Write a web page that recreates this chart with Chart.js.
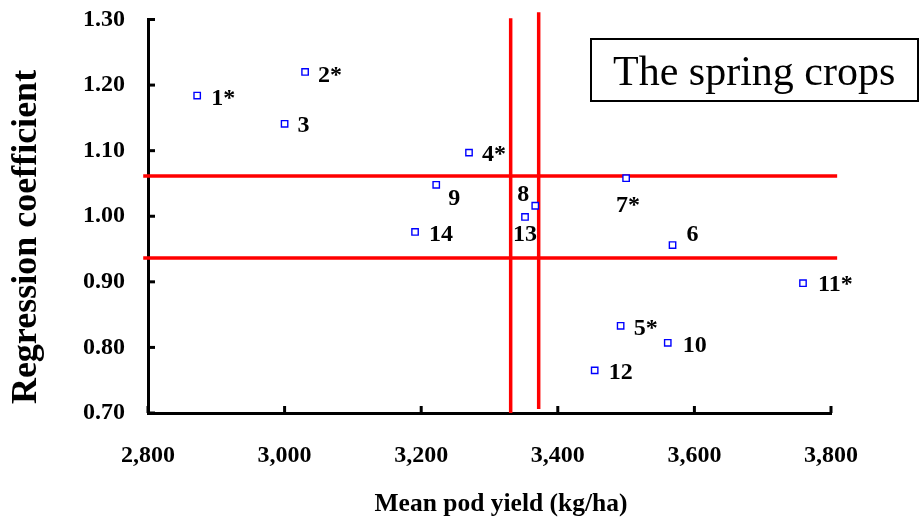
<!DOCTYPE html>
<html>
<head>
<meta charset="utf-8">
<script src="https://cdn.jsdelivr.net/npm/chart.js@4.4.1/dist/chart.umd.min.js"></script>
<style>
  html, body { margin: 0; padding: 0; background: #fff; }
  #wrap { width: 922px; height: 524px; }
</style>
</head>
<body>
<div id="wrap"><canvas id="chart"></canvas></div>
<script>
// genotypes, mean pod yield (kg/ha) and regression coefficient
const pointLabels = ['1*', '2*', '3', '4*', '5*', '6', '7*', '8', '9', '10', '11*', '12', '13', '14'];
const meanYield = [2872, 3030, 3000, 3270, 3492, 3568, 3500, 3367, 3222, 3561, 3759, 3454, 3352, 3191];
const regCoef = [1.184, 1.220, 1.141, 1.097, 0.833, 0.956, 1.058, 1.016, 1.048, 0.807, 0.898, 0.765, 0.999, 0.976];

const xTicks = [2800, 3000, 3200, 3400, 3600, 3800];
const yTicks = [0.70, 0.80, 0.90, 1.00, 1.10, 1.20, 1.30];

// red reference lines
const hLines = [1.0615, 0.9364];
const hLineSpan = [2793, 3809];
const vLines = [3331, 3372];
const vLineSpans = [[0.700, 1.302], [0.706, 1.311]];

// label placement next to each point: [dx, dy, align]
const labelOffsets = [
  [14, 3, 'left'], [13, 4, 'left'], [13, 2, 'left'], [13, 2, 'left'], [13, 3, 'left'],
  [14, -10, 'left'], [2, 28, 'center'], [-18, -11, 'left'], [12, 14, 'left'], [15, 3, 'left'],
  [15, 2, 'left'], [14, 2, 'left'], [0, 18, 'center'], [14, 3, 'left']
];

const serif = "'Liberation Serif', 'Times New Roman', serif";
const RED = '#ff0000';

const points = meanYield.map((x, i) => ({ x: x, y: regCoef[i] }));

const lineSets = [
  ...hLines.map(v => ({
    data: [{ x: hLineSpan[0], y: v }, { x: hLineSpan[1], y: v }],
    showLine: true, borderColor: RED, borderWidth: 3.5, pointRadius: 0, clip: false
  })),
  ...vLines.map((v, i) => ({
    data: [{ x: v, y: vLineSpans[i][0] }, { x: v, y: vLineSpans[i][1] }],
    showLine: true, borderColor: RED, borderWidth: 3.5, pointRadius: 0, clip: false
  }))
];

const extras = {
  id: 'extras',
  afterDraw(chart) {
    const { ctx, scales: { x, y } } = chart;
    ctx.save();
    // inward tick marks
    ctx.strokeStyle = '#000';
    ctx.lineWidth = 3;
    xTicks.forEach(v => {
      const px = x.getPixelForValue(v);
      ctx.beginPath(); ctx.moveTo(px, y.bottom); ctx.lineTo(px, y.bottom - 7); ctx.stroke();
    });
    yTicks.forEach(v => {
      const py = y.getPixelForValue(v);
      ctx.beginPath(); ctx.moveTo(x.left, py); ctx.lineTo(x.left + 7, py); ctx.stroke();
    });

    // point labels
    const meta = chart.getDatasetMeta(0);
    ctx.fillStyle = '#000';
    ctx.font = 'bold 24px ' + serif;
    ctx.textBaseline = 'middle';
    meta.data.forEach((el, i) => {
      const [dx, dy, align] = labelOffsets[i];
      ctx.textAlign = align;
      ctx.fillText(pointLabels[i], el.x + dx, el.y + dy);
    });

    // axis titles (sit a little off-centre in the original)
    ctx.textAlign = 'center';
    ctx.font = 'bold 25.5px ' + serif;
    ctx.fillText('Mean pod yield (kg/ha)', 501, 504);
    ctx.save();
    ctx.translate(27, 237);
    ctx.rotate(-Math.PI / 2);
    ctx.font = 'bold 36px ' + serif;
    ctx.fillText('Regression coefficient', 0, 0);
    ctx.restore();

    // caption box
    ctx.lineWidth = 2;
    ctx.strokeRect(591, 39, 327, 62);
    ctx.font = '42px ' + serif;
    ctx.textAlign = 'left';
    ctx.textBaseline = 'alphabetic';
    ctx.fillText('The spring crops', 613, 85);
    ctx.restore();
  }
};

new Chart(document.getElementById('chart'), {
  type: 'scatter',
  data: {
    datasets: [
      {
        data: points,
        pointStyle: 'rect',
        pointRadius: 4.5,
        pointBorderWidth: 1.4,
        pointBorderColor: '#0000ff',
        pointBackgroundColor: '#ffffff'
      },
      ...lineSets
    ]
  },
  options: {
    responsive: true,
    maintainAspectRatio: false,
    animation: false,
    layout: { padding: { top: 19.5, right: 91, left: 0, bottom: 0 } },
    plugins: { legend: { display: false }, tooltip: { enabled: false } },
    scales: {
      x: {
        type: 'linear',
        min: 2800, max: 3800,
        afterBuildTicks: s => { s.ticks = xTicks.map(v => ({ value: v })); },
        afterFit: s => { s.height = 111; s.paddingLeft = 0; s.paddingRight = 0; },
        grid: { display: false, drawTicks: false },
        border: { color: '#000', width: 3 },
        ticks: {
          padding: 28,
          color: '#000',
          font: { family: serif, size: 24, weight: 'bold' },
          callback: v => v.toLocaleString('en-US')
        }
      },
      y: {
        type: 'linear',
        min: 0.70, max: 1.30,
        afterBuildTicks: s => { s.ticks = yTicks.map(v => ({ value: v })); },
        afterFit: s => { s.width = 148; s.paddingTop = 0; s.paddingBottom = 0; },
        grid: { display: false, drawTicks: false },
        border: { color: '#000', width: 3 },
        ticks: {
          padding: 23,
          color: '#000',
          font: { family: serif, size: 24, weight: 'bold' },
          callback: v => v.toFixed(2)
        }
      }
    }
  },
  plugins: [extras]
});
</script>
</body>
</html>
